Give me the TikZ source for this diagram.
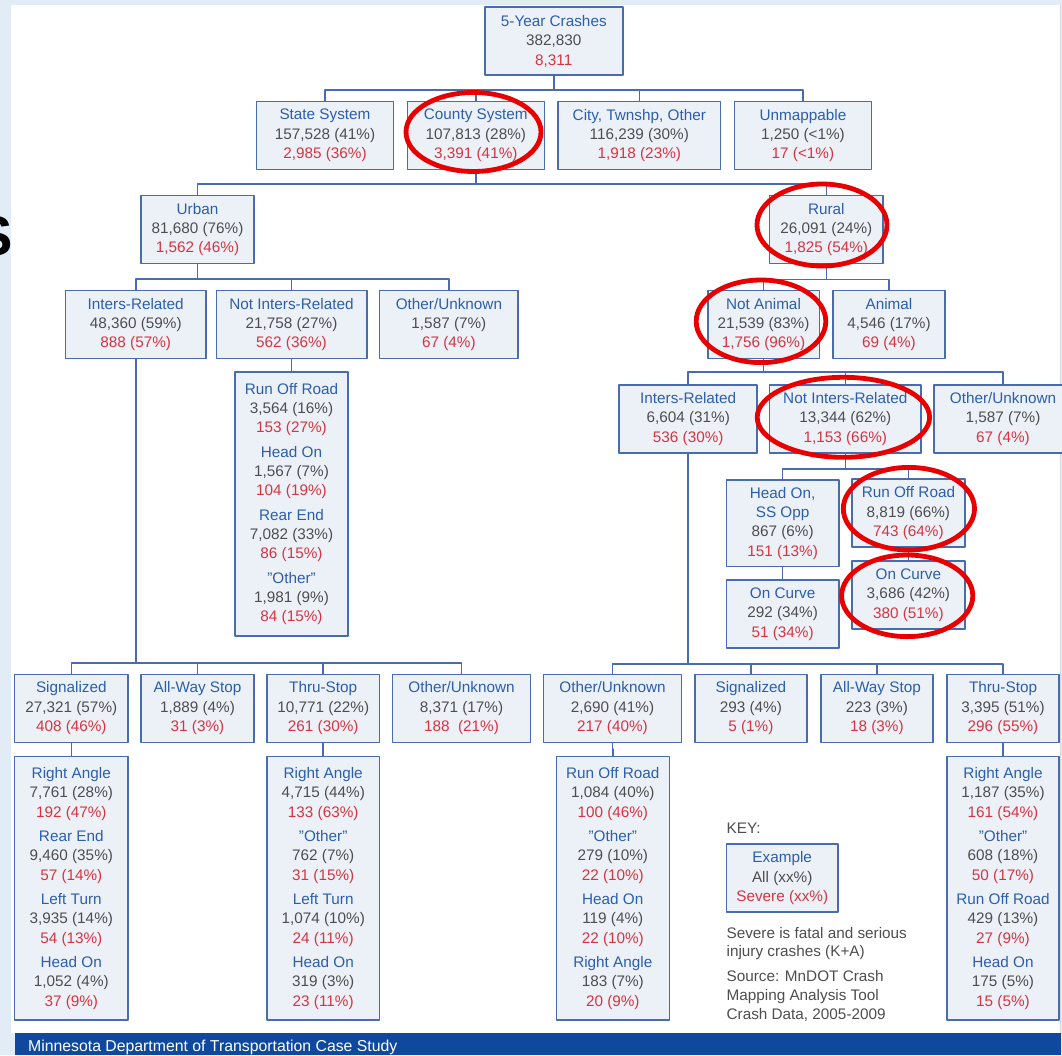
\documentclass[tikz,border=0pt]{standalone}
\usepackage{fontspec}
\setmainfont{Liberation Sans}
\definecolor{slide}{RGB}{226,236,247}
\definecolor{frame}{RGB}{72,108,172}
\definecolor{cell}{RGB}{236,241,248}
\definecolor{ttl}{RGB}{44,94,172}
\definecolor{num}{RGB}{78,78,78}
\definecolor{sev}{RGB}{214,52,64}
\definecolor{band}{RGB}{16,72,158}
\definecolor{circ}{RGB}{232,0,0}
\newcommand{\crash}[3]{\textcolor{ttl}{#1}\\\textcolor{num}{#2}\\\textcolor{sev}{#3}}

\begin{document}
\begin{tikzpicture}[x=1pt,y=-1pt,line join=round,
  every node/.style={inner sep=0pt,font=\fontsize{15.3}{19.4}\selectfont},
  box/.style={draw=frame,fill=cell,line width=1.6pt,align=center,minimum height=68pt},
  link/.style={draw=frame,line width=1.6pt},
  hilite/.style={draw=circ,line width=4.8pt}]
  \useasboundingbox (0,0) rectangle (1062,1055);
  % 背景
  \fill[slide] (0,0) rectangle (1062,1055);
  \node[anchor=base east,font=\fontsize{56}{56}\selectfont\bfseries] (sletter) at (13,255) {S};
  \fill[white] (11,5) rectangle (1060.7,1032.7);
  \draw[black!15,line width=0.8pt] (1060.7,5) -- (1060.7,1032.7);
  \fill[band] (14.5,1032.7) rectangle (1060.7,1055);
  \node[anchor=base west,text=white,font=\fontsize{15.8}{18}\selectfont] (footer) at (28,1051.5) {Minnesota Department of Transportation Case Study};
  % 顶层与道路系统
  \node[box,minimum width=138pt] (top) at (553.8,41.2) {\crash{5-Year Crashes}{382,830}{8,311}};
  \node[box,minimum width=137pt] (state) at (325,135.5) {\crash{State System}{157,528 (41\%)}{2,985 (36\%)}};
  \node[box,minimum width=137pt] (county) at (475.8,135.5) {\crash{County System}{107,813 (28\%)}{3,391 (41\%)}};
  \node[box,minimum width=162.5pt] (city) at (639.3,135.5) {\crash{City, Twnshp, Other}{116,239 (30\%)}{1,918 (23\%)}};
  \node[box,minimum width=137pt] (unmap) at (802.9,135.5) {\crash{Unmappable}{1,250 (<1\%)}{17 (<1\%)}};
  % 城市
  \node[box,minimum width=112.6pt] (urban) at (197.5,229.5) {\crash{Urban}{81,680 (76\%)}{1,562 (46\%)}};
  \node[box,minimum width=140.5pt] (uinter) at (135.7,324.5) {\crash{Inters-Related}{48,360 (59\%)}{888 (57\%)}};
  \node[box,minimum width=150.4pt] (unot) at (291.5,324.5) {\crash{Not Inters-Related}{21,758 (27\%)}{562 (36\%)}};
  \node[box,minimum width=138.7pt] (uother) at (448.9,324.5) {\crash{Other/Unknown}{1,587 (7\%)}{67 (4\%)}};
  \node[box,minimum width=112.6pt,minimum height=264pt] (unotsub) at (291.5,504) {%
    \crash{Run Off Road}{3,564 (16\%)}{153 (27\%)}\\[4.8pt]
    \crash{Head On}{1,567 (7\%)}{104 (19\%)}\\[4.8pt]
    \crash{Rear End}{7,082 (33\%)}{86 (15\%)}\\[4.8pt]
    \crash{"Other"}{1,981 (9\%)}{84 (15\%)}};
  % 乡村
  \node[box,minimum width=113.4pt] (rural) at (826.3,229.5) {\crash{Rural}{26,091 (24\%)}{1,825 (54\%)}};
  \node[box,minimum width=111.6pt] (nanimal) at (763.5,324.5) {\crash{Not Animal}{21,539 (83\%)}{1,756 (96\%)}};
  \node[box,minimum width=112.4pt] (animal) at (889,324.5) {\crash{Animal}{4,546 (17\%)}{69 (4\%)}};
  \node[box,minimum width=137.9pt] (rinter) at (688.2,418.9) {\crash{Inters-Related}{6,604 (31\%)}{536 (30\%)}};
  \node[box,minimum width=151.4pt] (rnot) at (845.3,418.9) {\crash{Not Inters-Related}{13,344 (62\%)}{1,153 (66\%)}};
  \node[box,minimum width=138pt] (rother) at (1003,418.9) {\crash{Other/Unknown}{1,587 (7\%)}{67 (4\%)}};
  \node[box,minimum width=112.3pt,minimum height=86.7pt] (headon) at (782.6,523.3) {\textcolor{ttl}{Head On,}\\\crash{SS Opp}{867 (6\%)}{151 (13\%)}};
  \node[box,minimum width=113.1pt] (roadr) at (908.4,513.2) {\crash{Run Off Road}{8,819 (66\%)}{743 (64\%)}};
  \node[box,minimum width=112.3pt] (curvel) at (782.6,614.2) {\crash{On Curve}{292 (34\%)}{51 (34\%)}};
  \node[box,minimum width=113.1pt] (curver) at (908.4,595) {\crash{On Curve}{3,686 (42\%)}{380 (51\%)}};
  % 交叉口控制
  \node[box,minimum width=113.6pt] (lsig) at (71.3,708.3) {\crash{Signalized}{27,321 (57\%)}{408 (46\%)}};
  \node[box,minimum width=112.6pt] (lall) at (197.5,708.3) {\crash{All-Way Stop}{1,889 (4\%)}{31 (3\%)}};
  \node[box,minimum width=112.6pt] (lthru) at (323.2,708.3) {\crash{Thru-Stop}{10,771 (22\%)}{261 (30\%)}};
  \node[box,minimum width=137.7pt] (lother) at (461.5,708.3) {\crash{Other/Unknown}{8,371 (17\%)}{188 \ (21\%)}};
  \node[box,minimum width=137.9pt] (rother2) at (612.5,708.3) {\crash{Other/Unknown}{2,690 (41\%)}{217 (40\%)}};
  \node[box,minimum width=112pt] (rsig) at (750.9,708.3) {\crash{Signalized}{293 (4\%)}{5 (1\%)}};
  \node[box,minimum width=112.3pt] (rall) at (876.9,708.3) {\crash{All-Way Stop}{223 (3\%)}{18 (3\%)}};
  \node[box,minimum width=112.3pt] (rthru) at (1003,708.3) {\crash{Thru-Stop}{3,395 (51\%)}{296 (55\%)}};
  % 碰撞类型
  \node[box,minimum width=113.6pt,minimum height=263.3pt] (lsigsub) at (71.3,888.3) {%
    \crash{Right Angle}{7,761 (28\%)}{192 (47\%)}\\[4.8pt]
    \crash{Rear End}{9,460 (35\%)}{57 (14\%)}\\[4.8pt]
    \crash{Left Turn}{3,935 (14\%)}{54 (13\%)}\\[4.8pt]
    \crash{Head On}{1,052 (4\%)}{37 (9\%)}};
  \node[box,minimum width=112.6pt,minimum height=263.3pt] (lthrusub) at (323.2,888.3) {%
    \crash{Right Angle}{4,715 (44\%)}{133 (63\%)}\\[4.8pt]
    \crash{"Other"}{762 (7\%)}{31 (15\%)}\\[4.8pt]
    \crash{Left Turn}{1,074 (10\%)}{24 (11\%)}\\[4.8pt]
    \crash{Head On}{319 (3\%)}{23 (11\%)}};
  \node[box,minimum width=113pt,minimum height=263.3pt] (rother2sub) at (612.8,888.3) {%
    \crash{Run Off Road}{1,084 (40\%)}{100 (46\%)}\\[4.8pt]
    \crash{"Other"}{279 (10\%)}{22 (10\%)}\\[4.8pt]
    \crash{Head On}{119 (4\%)}{22 (10\%)}\\[4.8pt]
    \crash{Right Angle}{183 (7\%)}{20 (9\%)}};
  \node[box,minimum width=112.3pt,minimum height=263.3pt] (rthrusub) at (1003,888.3) {%
    \crash{Right Angle}{1,187 (35\%)}{161 (54\%)}\\[4.8pt]
    \crash{"Other"}{608 (18\%)}{50 (17\%)}\\[4.8pt]
    \crash{Run Off Road}{429 (13\%)}{27 (9\%)}\\[4.8pt]
    \crash{Head On}{175 (5\%)}{15 (5\%)}};
  % 图例
  \node[anchor=base west,text=num] (keylab) at (726.4,833.5) {KEY:};
  \node[box,minimum width=111.6pt] (key) at (782.2,878.2) {\crash{Example}{All (xx\%)}{Severe (xx\%)}};
  \node[anchor=north west,align=left,text=num,font=\fontsize{15.3}{18.6}\selectfont] (notes) at (726.4,927) {Severe is fatal and serious\\injury crashes (K+A)\\[6.4pt]Source: MnDOT Crash\\Mapping Analysis Tool\\Crash Data, 2005-2009};
  % 连线
  \foreach \p/\d/\c in {top/14/state,top/14/county,top/14/city,top/14/unmap,
    county/13.4/urban,county/13.4/rural,
    urban/14.4/uinter,urban/14.4/unot,urban/14.4/uother,unot/6/unotsub,
    rural/15/nanimal,rural/15/animal,
    nanimal/12.7/rinter,nanimal/12.7/rnot,nanimal/12.7/rother,
    rnot/15/headon,rnot/15/roadr,headon/6/curvel,roadr/6/curver,
    uinter/303.7/lsig,uinter/303.7/lall,uinter/303.7/lthru,uinter/303.7/lother,
    rinter/210.3/rother2,rinter/210.3/rsig,rinter/210.3/rall,rinter/210.3/rthru,
    lsig/6/lsigsub,lthru/6/lthrusub,rother2/6/rother2sub,rthru/6/rthrusub} {
    \draw[link] (\p.south) -- ++(0,\d) -| (\c.north);
  }
  % 红圈
  \foreach \cx/\cy/\rx/\ry in {473.5/132/67.5/39.5, 822/225/65/41, 761/321.3/64.8/41.3,
    843.4/417.3/86.2/40, 908.9/508.7/65.6/41.3, 907.2/595.8/65.6/40.8} {
    \draw[hilite] (\cx,\cy) ellipse [x radius=\rx, y radius=\ry];
  }
\end{tikzpicture}
\end{document}
